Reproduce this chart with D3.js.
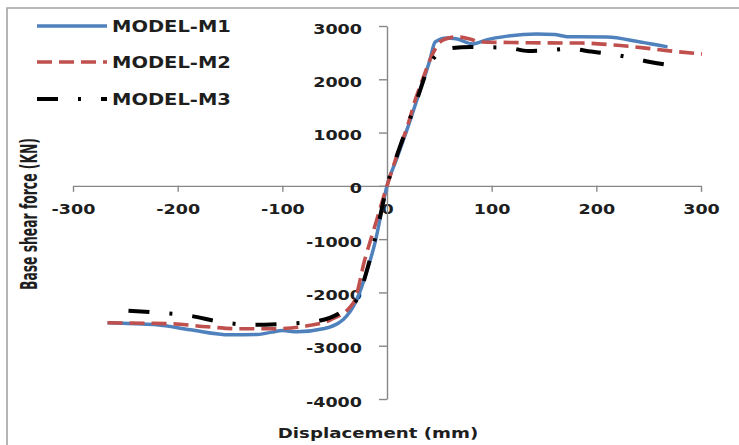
<!DOCTYPE html>
<html>
<head>
<meta charset="utf-8">
<script src="https://cdn.jsdelivr.net/npm/d3@7"></script>
<style>
    body { margin: 0; background: #fff; }
    svg { display: block; }
    text { font-family: "DejaVu Sans", Verdana, sans-serif; font-weight: bold; fill: #1e1e1e; }
</style>
</head>
<body>
<div id="app"></div>
<script>
"use strict";

// tick labels
const xTicks = [-300, -200, -100, 0, 100, 200, 300];
const yTicks = [3000, 2000, 1000, 0, -1000, -2000, -3000, -4000];

// legend names
const seriesNames = ["MODEL-M1", "MODEL-M2", "MODEL-M3"];

// displacement (mm) / base shear (kN)
const m1Disp  = [-267, -240, -220, -188, -150, -124, -110, -100, -86, -61, -42, -29, -20, -11.5, 0, 10, 20, 30, 41, 46, 57, 66, 82, 95, 115, 143, 160, 172, 210, 242, 268];
const m1Force = [-2570, -2590, -2608, -2700, -2795, -2790, -2745, -2715, -2740, -2683, -2514, -2139, -1650, -1070, 0, 550, 1107, 1700, 2364, 2700, 2777, 2760, 2664, 2740, 2810, 2852, 2840, 2800, 2795, 2700, 2608];

const m2Disp  = [-267, -204, -172, -140, -109, -76, -54, -32, -21, -10, 0, 10, 20, 27, 35, 41, 47, 52, 60, 67, 80, 89, 120, 153, 185, 216, 245, 270, 301];
const m2Force = [-2570, -2590, -2645, -2683, -2683, -2627, -2514, -2195, -1370, -650, 0, 600, 1150, 1613, 2050, 2364, 2600, 2720, 2780, 2795, 2750, 2700, 2690, 2683, 2680, 2645, 2590, 2533, 2476];

const m3Disp  = [-247, -217, -188, -160, -129, -100, -71, -45, -29, -18, -8, 0, 10, 20, 30, 40, 50, 57, 80, 100, 116, 135, 150, 175, 195, 215, 234, 250, 272];
const m3Force = [-2345, -2383, -2439, -2551, -2608, -2590, -2551, -2383, -2139, -1500, -700, 0, 600, 1150, 1700, 2250, 2500, 2570, 2608, 2600, 2590, 2530, 2540, 2570, 2520, 2470, 2400, 2330, 2260];

const width = 739, height = 445;
const stretch = 1.3; // text in the picture is drawn wide

function createChart() {
    const svg = d3.select("#app").append("svg")
        .attr("width", width)
        .attr("height", height);

    // outer frame (only top and left edges visible)
    svg.append("path")
        .attr("d", `M7,${height} V8 H${width}`)
        .attr("fill", "none")
        .attr("stroke", "#a3a3a3")
        .attr("stroke-width", 1.6);

    const x = d3.scaleLinear().domain([-300, 300]).range([73, 701]);
    const y = d3.scaleLinear().domain([-4000, 3000]).range([399, 26]);
    const plain = d => String(d);

    const xAxis = svg.append("g")
        .attr("transform", `translate(0,${y(0)})`)
        .call(d3.axisBottom(x).tickValues(xTicks).tickFormat(plain).tickSize(6).tickSizeOuter(0));
    xAxis.selectAll("text")
        .attr("y", 28)
        .attr("dy", null)
        .attr("transform", `scale(${stretch},1)`);

    const yAxis = svg.append("g")
        .attr("transform", `translate(${x(0)},0)`)
        .call(d3.axisLeft(y).tickValues(yTicks).tickFormat(plain).tickSize(8).tickSizeOuter(0));
    yAxis.selectAll("text")
        .attr("x", -25 / stretch)
        .attr("y", 7)
        .attr("dy", null)
        .attr("transform", `scale(${stretch},1)`);

    for (let g of [xAxis, yAxis]) {
        g.attr("font-family", null).attr("font-size", null);
        g.selectAll("text").style("font-size", "13.5px").attr("fill", "#1e1e1e");
        g.selectAll("path, line").attr("stroke", "#878787").attr("stroke-width", 1.4);
    }

    const series = [
        { disp: m1Disp, force: m1Force, color: "#4F81BD", width: 3.5, dash: null },
        { disp: m2Disp, force: m2Force, color: "#C0504D", width: 3.6, dash: "15,7" },
        { disp: m3Disp, force: m3Force, color: "#000000", width: 4, dash: "21,20,3,20" },
    ];

    const line = d3.line()
        .x(d => x(d[0]))
        .y(d => y(d[1]))
        .curve(d3.curveMonotoneX);

    for (let s of series) {
        svg.append("path")
            .datum(d3.zip(s.disp, s.force))
            .attr("d", line)
            .attr("fill", "none")
            .attr("stroke", s.color)
            .attr("stroke-width", s.width)
            .attr("stroke-dasharray", s.dash)
            .attr("stroke-linejoin", "round");
    }

    // legend
    const legendY = [26, 62, 99];
    series.forEach((s, i) => {
        svg.append("line")
            .attr("x1", 37).attr("x2", 107)
            .attr("y1", legendY[i]).attr("y2", legendY[i])
            .attr("stroke", s.color)
            .attr("stroke-width", s.width)
            .attr("stroke-dasharray", s.dash);
        svg.append("text")
            .attr("transform", `translate(112,${legendY[i] + 6}) scale(${stretch},1)`)
            .style("font-size", "15px")
            .text(seriesNames[i]);
    });

    // axis titles
    svg.append("text")
        .attr("transform", `translate(378,438) scale(${stretch},1)`)
        .attr("text-anchor", "middle")
        .style("font-size", "14px")
        .text("Displacement  (mm)");

    svg.append("text")
        .attr("transform", `translate(37,214) scale(${stretch},1) rotate(-90)`)
        .attr("text-anchor", "middle")
        .attr("textLength", 152)
        .attr("lengthAdjust", "spacingAndGlyphs")
        .style("font-family", `"Liberation Sans Narrow", "DejaVu Sans Condensed", sans-serif`)
        .style("font-size", "17px")
        .text("Base shear force (KN)");
}

createChart();
</script>
</body>
</html>
